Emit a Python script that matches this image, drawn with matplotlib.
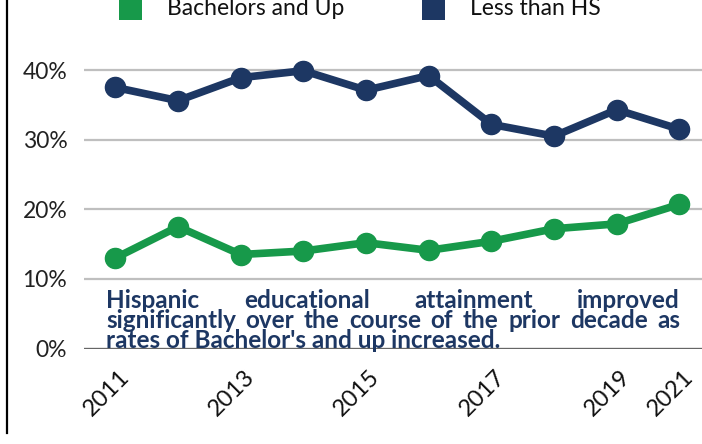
import matplotlib
matplotlib.use("Agg")
import matplotlib.pyplot as plt
from matplotlib.patches import Rectangle
from matplotlib.lines import Line2D
import matplotlib.transforms as mtransforms

years = ["2011", "2012", "2013", "2014", "2015", "2016", "2017", "2018", "2019", "2021"]
bachelors = [13.0, 17.5, 13.5, 14.0, 15.2, 14.1, 15.4, 17.2, 17.9, 20.7]
less_hs = [37.5, 35.6, 38.9, 39.9, 37.1, 39.2, 32.2, 30.5, 34.3, 31.5]
yticks = [0, 10, 20, 30, 40]
ytick_labels = ["0%", "10%", "20%", "30%", "40%"]
shown_years = ["2011", "2013", "2015", "2017", "2019", "2021"]
series_names = ["Bachelors and Up", "Less than HS"]
note_lines = [
    "Hispanic educational attainment improved",
    "significantly over the course of the prior decade as",
    "rates of Bachelor's and up increased.",
]

GREEN = "#17994a"
NAVY = "#1d3763"
W, H = 702, 444
DPI = 100

plt.rcParams['font.family'] = ['Lato', 'DejaVu Sans']

fig = plt.figure(figsize=(W / DPI, H / DPI), dpi=DPI)
fig.patch.set_facecolor("white")

def fx(px):
    return px / W

def fy(py):
    return (H - py) / H

left_px, right_px = 84, 710.7
bottom_px, top_px = 348.5, 0.4
ax = fig.add_axes([fx(left_px), fy(bottom_px), fx(right_px - left_px), (bottom_px - top_px) / H])
ax.set_facecolor("none")

x = list(range(len(years)))
ax.plot(x, less_hs, color=NAVY, lw=5.5, marker="o", ms=14.5, clip_on=False, zorder=4,
        solid_joinstyle="round")
ax.plot(x, bachelors, color=GREEN, lw=5.5, marker="o", ms=14.5, clip_on=False, zorder=4,
        solid_joinstyle="round")

ax.set_xlim(-0.5, len(years) - 0.5)
ax.set_ylim(0, 50)
ax.set_yticks(yticks)
ax.set_yticklabels(ytick_labels, fontsize=16.5, color="#222222")
ax.tick_params(axis="y", length=0, pad=12)

for yv in yticks:
    if yv == 0:
        ax.axhline(yv, color="#666666", lw=2.4, zorder=2)
    else:
        ax.axhline(yv, color="#bfbfbf", lw=1.6, zorder=1)

tick_pos = [years.index(y) for y in shown_years]
ax.set_xticks(tick_pos)
ax.set_xticklabels(shown_years, fontsize=17, rotation=45, ha="center", va="center",
                   rotation_mode="anchor", color="#111111")
ax.tick_params(axis="x", length=0, pad=32)
offset = mtransforms.ScaledTranslation(-9 / DPI, 0, fig.dpi_scale_trans)
for lbl in ax.get_xticklabels():
    lbl.set_transform(lbl.get_transform() + offset)

for s in ax.spines.values():
    s.set_visible(False)

# left border line
fig.add_artist(Line2D([fx(7), fx(7)], [fy(433), fy(0)], color="black", lw=1.6))

# legend
for name, col, sx, tx in [(series_names[0], GREEN, 119, 167), (series_names[1], NAVY, 422, 470)]:
    fig.add_artist(Rectangle((fx(sx), fy(20)), fx(23), 23 / H, color=col, lw=0))
    fig.text(fx(tx), fy(15), name, fontsize=16.5, color="#111111", va="baseline", ha="left")

# justified note
renderer = fig.canvas.get_renderer()
note_left, note_right = 106, 680
baselines = [308.3, 328.3, 347.7]
note_kw = dict(fontsize=17.5, fontweight="bold", color=NAVY, va="baseline", ha="left", zorder=5)
for i, line in enumerate(note_lines):
    if i < 2:
        words = line.split(" ")
        txts = [fig.text(0, fy(baselines[i]), w, **note_kw) for w in words]
        widths = [t.get_window_extent(renderer).width for t in txts]
        gap = (note_right - note_left - sum(widths)) / (len(words) - 1)
        xpos = note_left
        for t, wdt in zip(txts, widths):
            t.set_x(fx(xpos))
            xpos += wdt + gap
    else:
        fig.text(fx(note_left), fy(baselines[i]), line, **note_kw)

fig.savefig("out.png", dpi=DPI, facecolor="white")
